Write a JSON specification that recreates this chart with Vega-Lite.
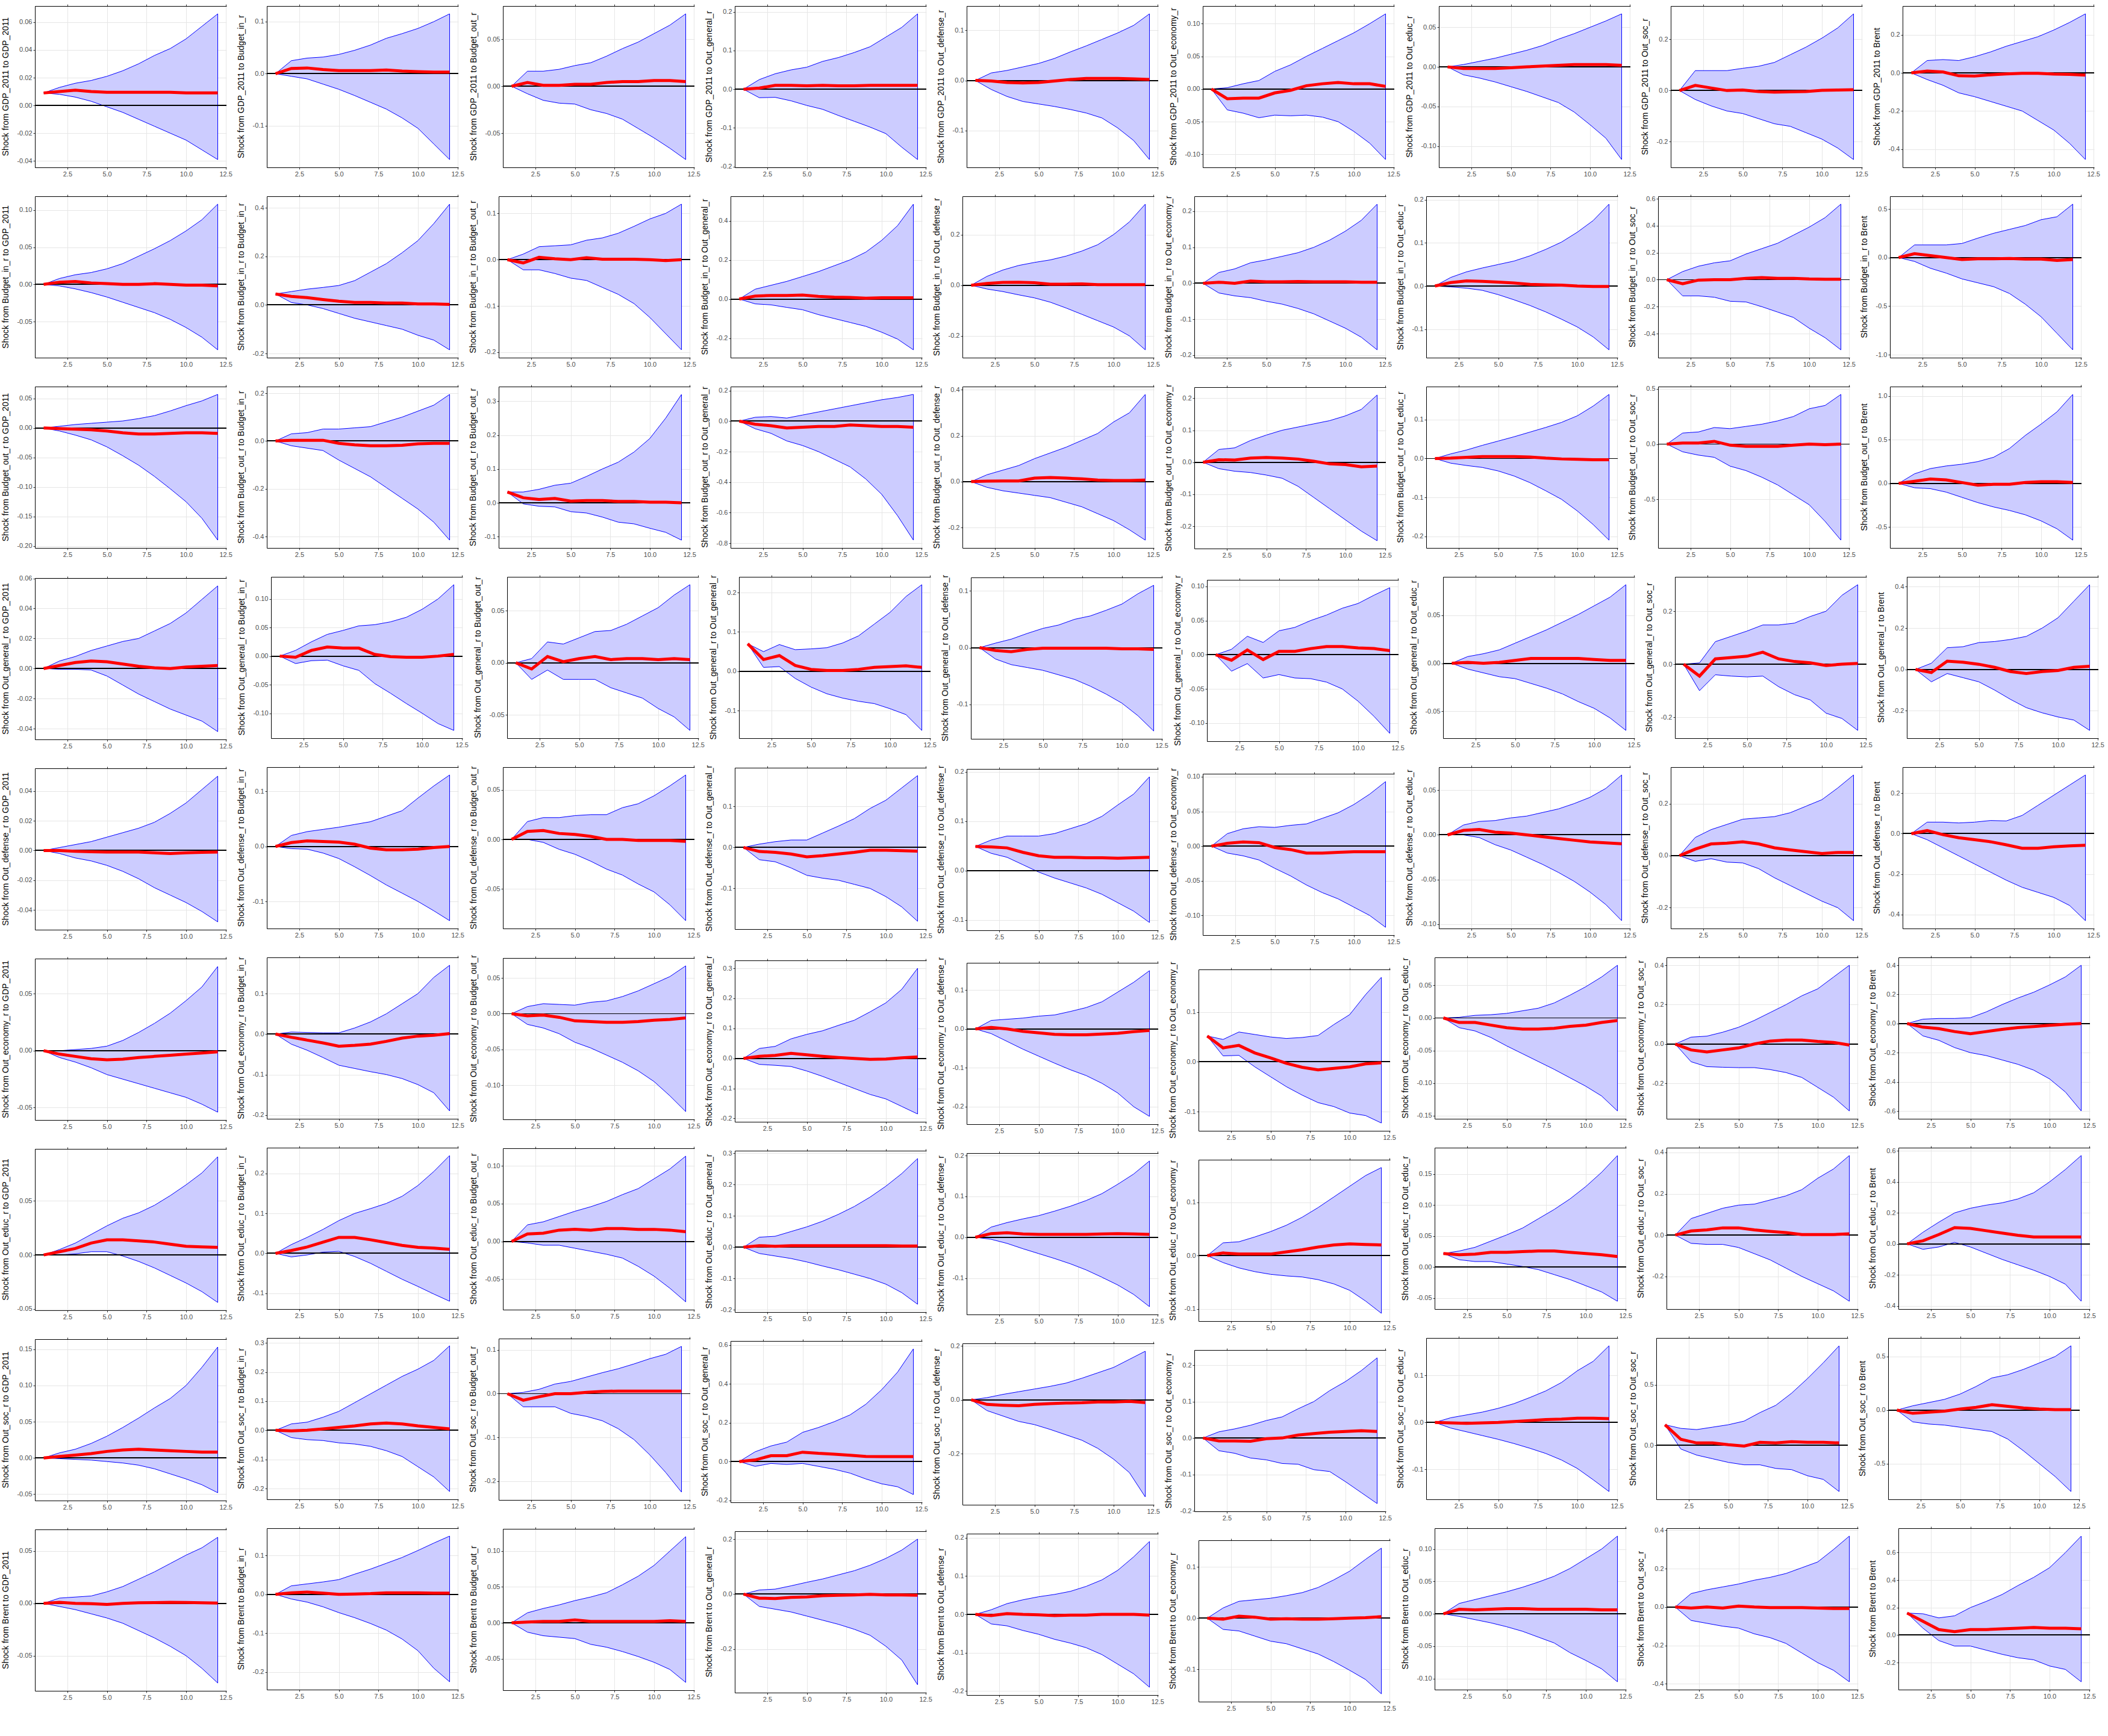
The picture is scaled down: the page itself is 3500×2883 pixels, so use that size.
{
"$schema": "https://vega.github.io/schema/vega-lite/v6.json",
"background": "white",
"padding": {"left": 2, "top": 6, "right": 0, "bottom": 2},
"config": {
  "locale": {"number": {"decimal": ".", "thousands": ",", "grouping": [3], "currency": ["$", ""], "minus": "-"}},
  "view": {"stroke": null},
  "font": "Liberation Sans",
  "axis": {"labelFont": "Liberation Sans", "labelFontSize": 11, "labelColor": "#4d4d4d", "tickColor": "#333333", "tickSize": 3, "labelPadding": 2, "domainColor": "#000000", "domainWidth": 1, "gridColor": "#e6e6e6", "gridWidth": 1, "title": null},
  "header": {"labelFont": "Liberation Sans", "labelFontSize": 14, "labelColor": "#000000"}
},
"data": {"values": [
{"p":1,"x":1,"y":0.009,"l":0.009,"h":0.009},{"p":1,"x":2,"y":0.010,"l":0.008,"h":0.013},{"p":1,"x":3,"y":0.011,"l":0.006,"h":0.016},{"p":1,"x":4,"y":0.010,"l":0.003,"h":0.018},{"p":1,"x":5,"y":0.0095,"l":-0.001,"h":0.021},{"p":1,"x":6,"y":0.0095,"l":-0.005,"h":0.025},{"p":1,"x":7,"y":0.0095,"l":-0.010,"h":0.030},{"p":1,"x":8,"y":0.0095,"l":-0.015,"h":0.036},{"p":1,"x":9,"y":0.0095,"l":-0.020,"h":0.041},{"p":1,"x":10,"y":0.009,"l":-0.025,"h":0.048},{"p":1,"x":11,"y":0.009,"l":-0.032,"h":0.057},{"p":1,"x":12,"y":0.009,"l":-0.039,"h":0.066},
{"p":2,"x":1,"y":0,"l":0,"h":0},{"p":2,"x":2,"y":0.010,"l":-0.005,"h":0.025},{"p":2,"x":3,"y":0.011,"l":-0.010,"h":0.030},{"p":2,"x":4,"y":0.008,"l":-0.020,"h":0.032},{"p":2,"x":5,"y":0.006,"l":-0.030,"h":0.037},{"p":2,"x":6,"y":0.006,"l":-0.042,"h":0.045},{"p":2,"x":7,"y":0.006,"l":-0.055,"h":0.055},{"p":2,"x":8,"y":0.007,"l":-0.068,"h":0.068},{"p":2,"x":9,"y":0.005,"l":-0.085,"h":0.077},{"p":2,"x":10,"y":0.004,"l":-0.105,"h":0.087},{"p":2,"x":11,"y":0.003,"l":-0.135,"h":0.100},{"p":2,"x":12,"y":0.003,"l":-0.165,"h":0.115},
{"p":3,"x":1,"y":0,"l":0,"h":0},{"p":3,"x":2,"y":0.004,"l":-0.008,"h":0.016},{"p":3,"x":3,"y":0.001,"l":-0.015,"h":0.016},{"p":3,"x":4,"y":0.001,"l":-0.018,"h":0.018},{"p":3,"x":5,"y":0.002,"l":-0.019,"h":0.022},{"p":3,"x":6,"y":0.002,"l":-0.025,"h":0.025},{"p":3,"x":7,"y":0.004,"l":-0.029,"h":0.032},{"p":3,"x":8,"y":0.005,"l":-0.035,"h":0.040},{"p":3,"x":9,"y":0.005,"l":-0.045,"h":0.047},{"p":3,"x":10,"y":0.006,"l":-0.055,"h":0.056},{"p":3,"x":11,"y":0.006,"l":-0.066,"h":0.065},{"p":3,"x":12,"y":0.005,"l":-0.078,"h":0.077},
{"p":4,"x":1,"y":0,"l":0,"h":0},{"p":4,"x":2,"y":0.003,"l":-0.022,"h":0.025},{"p":4,"x":3,"y":0.010,"l":-0.021,"h":0.040},{"p":4,"x":4,"y":0.010,"l":-0.030,"h":0.050},{"p":4,"x":5,"y":0.009,"l":-0.042,"h":0.057},{"p":4,"x":6,"y":0.010,"l":-0.052,"h":0.072},{"p":4,"x":7,"y":0.009,"l":-0.068,"h":0.082},{"p":4,"x":8,"y":0.009,"l":-0.083,"h":0.095},{"p":4,"x":9,"y":0.010,"l":-0.098,"h":0.110},{"p":4,"x":10,"y":0.010,"l":-0.115,"h":0.135},{"p":4,"x":11,"y":0.010,"l":-0.150,"h":0.160},{"p":4,"x":12,"y":0.010,"l":-0.182,"h":0.195},
{"p":5,"x":1,"y":0,"l":0,"h":0},{"p":5,"x":2,"y":-0.001,"l":-0.018,"h":0.015},{"p":5,"x":3,"y":-0.004,"l":-0.032,"h":0.020},{"p":5,"x":4,"y":-0.005,"l":-0.042,"h":0.027},{"p":5,"x":5,"y":-0.004,"l":-0.047,"h":0.034},{"p":5,"x":6,"y":-0.001,"l":-0.052,"h":0.044},{"p":5,"x":7,"y":0.002,"l":-0.058,"h":0.057},{"p":5,"x":8,"y":0.004,"l":-0.065,"h":0.069},{"p":5,"x":9,"y":0.004,"l":-0.075,"h":0.082},{"p":5,"x":10,"y":0.004,"l":-0.095,"h":0.095},{"p":5,"x":11,"y":0.003,"l":-0.120,"h":0.110},{"p":5,"x":12,"y":0.002,"l":-0.158,"h":0.133},
{"p":6,"x":1,"y":0,"l":0,"h":0},{"p":6,"x":2,"y":-0.015,"l":-0.032,"h":0.002},{"p":6,"x":3,"y":-0.014,"l":-0.037,"h":0.008},{"p":6,"x":4,"y":-0.014,"l":-0.044,"h":0.013},{"p":6,"x":5,"y":-0.006,"l":-0.040,"h":0.027},{"p":6,"x":6,"y":-0.002,"l":-0.041,"h":0.037},{"p":6,"x":7,"y":0.005,"l":-0.040,"h":0.050},{"p":6,"x":8,"y":0.008,"l":-0.043,"h":0.062},{"p":6,"x":9,"y":0.010,"l":-0.050,"h":0.074},{"p":6,"x":10,"y":0.008,"l":-0.065,"h":0.086},{"p":6,"x":11,"y":0.008,"l":-0.083,"h":0.100},{"p":6,"x":12,"y":0.004,"l":-0.108,"h":0.115},
{"p":7,"x":1,"y":0,"l":0,"h":0},{"p":7,"x":2,"y":-0.002,"l":-0.010,"h":0.003},{"p":7,"x":3,"y":-0.002,"l":-0.014,"h":0.007},{"p":7,"x":4,"y":-0.002,"l":-0.019,"h":0.011},{"p":7,"x":5,"y":-0.001,"l":-0.025,"h":0.016},{"p":7,"x":6,"y":0,"l":-0.031,"h":0.021},{"p":7,"x":7,"y":0.001,"l":-0.038,"h":0.027},{"p":7,"x":8,"y":0.002,"l":-0.045,"h":0.035},{"p":7,"x":9,"y":0.003,"l":-0.057,"h":0.042},{"p":7,"x":10,"y":0.003,"l":-0.073,"h":0.050},{"p":7,"x":11,"y":0.003,"l":-0.090,"h":0.058},{"p":7,"x":12,"y":0.002,"l":-0.117,"h":0.067},
{"p":8,"x":1,"y":0,"l":0,"h":0},{"p":8,"x":2,"y":0.020,"l":-0.035,"h":0.078},{"p":8,"x":3,"y":0.010,"l":-0.060,"h":0.078},{"p":8,"x":4,"y":0,"l":-0.080,"h":0.078},{"p":8,"x":5,"y":0.002,"l":-0.090,"h":0.087},{"p":8,"x":6,"y":-0.004,"l":-0.110,"h":0.095},{"p":8,"x":7,"y":-0.006,"l":-0.130,"h":0.110},{"p":8,"x":8,"y":-0.005,"l":-0.140,"h":0.140},{"p":8,"x":9,"y":-0.004,"l":-0.165,"h":0.170},{"p":8,"x":10,"y":0.001,"l":-0.190,"h":0.205},{"p":8,"x":11,"y":0.002,"l":-0.225,"h":0.245},{"p":8,"x":12,"y":0.003,"l":-0.270,"h":0.300},
{"p":9,"x":1,"y":0,"l":0,"h":0},{"p":9,"x":2,"y":0.010,"l":-0.035,"h":0.065},{"p":9,"x":3,"y":0.005,"l":-0.065,"h":0.070},{"p":9,"x":4,"y":-0.015,"l":-0.105,"h":0.065},{"p":9,"x":5,"y":-0.016,"l":-0.125,"h":0.085},{"p":9,"x":6,"y":-0.010,"l":-0.150,"h":0.110},{"p":9,"x":7,"y":-0.005,"l":-0.175,"h":0.140},{"p":9,"x":8,"y":-0.002,"l":-0.200,"h":0.165},{"p":9,"x":9,"y":-0.002,"l":-0.250,"h":0.190},{"p":9,"x":10,"y":-0.006,"l":-0.300,"h":0.225},{"p":9,"x":11,"y":-0.008,"l":-0.370,"h":0.265},{"p":9,"x":12,"y":-0.012,"l":-0.455,"h":0.310},
{"p":10,"x":1,"y":0,"l":0,"h":0},{"p":10,"x":2,"y":0.003,"l":-0.002,"h":0.008},{"p":10,"x":3,"y":0.004,"l":-0.006,"h":0.013},{"p":10,"x":4,"y":0.002,"l":-0.011,"h":0.016},{"p":10,"x":5,"y":0.001,"l":-0.017,"h":0.021},{"p":10,"x":6,"y":0,"l":-0.024,"h":0.028},{"p":10,"x":7,"y":0,"l":-0.031,"h":0.038},{"p":10,"x":8,"y":0.001,"l":-0.038,"h":0.048},{"p":10,"x":9,"y":0,"l":-0.047,"h":0.059},{"p":10,"x":10,"y":-0.001,"l":-0.058,"h":0.072},{"p":10,"x":11,"y":-0.001,"l":-0.071,"h":0.087},{"p":10,"x":12,"y":-0.002,"l":-0.088,"h":0.108},
{"p":11,"x":1,"y":0.045,"l":0.045,"h":0.045},{"p":11,"x":2,"y":0.035,"l":0.010,"h":0.055},{"p":11,"x":3,"y":0.030,"l":0,"h":0.065},{"p":11,"x":4,"y":0.022,"l":-0.015,"h":0.072},{"p":11,"x":5,"y":0.015,"l":-0.035,"h":0.080},{"p":11,"x":6,"y":0.010,"l":-0.055,"h":0.100},{"p":11,"x":7,"y":0.010,"l":-0.070,"h":0.135},{"p":11,"x":8,"y":0.008,"l":-0.085,"h":0.170},{"p":11,"x":9,"y":0.008,"l":-0.100,"h":0.215},{"p":11,"x":10,"y":0.004,"l":-0.125,"h":0.265},{"p":11,"x":11,"y":0.004,"l":-0.145,"h":0.335},{"p":11,"x":12,"y":0.002,"l":-0.185,"h":0.415},
{"p":12,"x":1,"y":0,"l":0,"h":0},{"p":12,"x":2,"y":-0.007,"l":-0.022,"h":0.012},{"p":12,"x":3,"y":0.005,"l":-0.022,"h":0.028},{"p":12,"x":4,"y":0.002,"l":-0.030,"h":0.030},{"p":12,"x":5,"y":0,"l":-0.040,"h":0.032},{"p":12,"x":6,"y":0.004,"l":-0.045,"h":0.042},{"p":12,"x":7,"y":0.001,"l":-0.060,"h":0.047},{"p":12,"x":8,"y":0.001,"l":-0.075,"h":0.057},{"p":12,"x":9,"y":0.001,"l":-0.095,"h":0.072},{"p":12,"x":10,"y":0,"l":-0.125,"h":0.088},{"p":12,"x":11,"y":-0.002,"l":-0.160,"h":0.100},{"p":12,"x":12,"y":0,"l":-0.195,"h":0.120},
{"p":13,"x":1,"y":0,"l":0,"h":0},{"p":13,"x":2,"y":0.015,"l":-0.025,"h":0.050},{"p":13,"x":3,"y":0.018,"l":-0.030,"h":0.070},{"p":13,"x":4,"y":0.018,"l":-0.043,"h":0.090},{"p":13,"x":5,"y":0.020,"l":-0.055,"h":0.115},{"p":13,"x":6,"y":0.013,"l":-0.080,"h":0.140},{"p":13,"x":7,"y":0.009,"l":-0.100,"h":0.170},{"p":13,"x":8,"y":0.008,"l":-0.120,"h":0.200},{"p":13,"x":9,"y":0.004,"l":-0.140,"h":0.240},{"p":13,"x":10,"y":0.006,"l":-0.170,"h":0.300},{"p":13,"x":11,"y":0.006,"l":-0.205,"h":0.375},{"p":13,"x":12,"y":0.006,"l":-0.260,"h":0.485},
{"p":14,"x":1,"y":0,"l":0,"h":0},{"p":14,"x":2,"y":0.007,"l":-0.015,"h":0.035},{"p":14,"x":3,"y":0.011,"l":-0.025,"h":0.060},{"p":14,"x":4,"y":0.012,"l":-0.038,"h":0.078},{"p":14,"x":5,"y":0.010,"l":-0.050,"h":0.090},{"p":14,"x":6,"y":0.004,"l":-0.067,"h":0.100},{"p":14,"x":7,"y":0.004,"l":-0.090,"h":0.115},{"p":14,"x":8,"y":0.005,"l":-0.115,"h":0.135},{"p":14,"x":9,"y":0.002,"l":-0.140,"h":0.160},{"p":14,"x":10,"y":0.002,"l":-0.165,"h":0.200},{"p":14,"x":11,"y":0.002,"l":-0.200,"h":0.250},{"p":14,"x":12,"y":0.002,"l":-0.255,"h":0.320},
{"p":15,"x":1,"y":0,"l":0,"h":0},{"p":15,"x":2,"y":0.003,"l":-0.027,"h":0.030},{"p":15,"x":3,"y":0,"l":-0.035,"h":0.040},{"p":15,"x":4,"y":0.006,"l":-0.040,"h":0.057},{"p":15,"x":5,"y":0.004,"l":-0.050,"h":0.065},{"p":15,"x":6,"y":0.004,"l":-0.058,"h":0.075},{"p":15,"x":7,"y":0.005,"l":-0.070,"h":0.085},{"p":15,"x":8,"y":0.004,"l":-0.085,"h":0.100},{"p":15,"x":9,"y":0.004,"l":-0.105,"h":0.120},{"p":15,"x":10,"y":0.004,"l":-0.125,"h":0.145},{"p":15,"x":11,"y":0.003,"l":-0.150,"h":0.175},{"p":15,"x":12,"y":0.003,"l":-0.185,"h":0.220},
{"p":16,"x":1,"y":0,"l":0,"h":0},{"p":16,"x":2,"y":0.008,"l":-0.002,"h":0.020},{"p":16,"x":3,"y":0.012,"l":-0.005,"h":0.033},{"p":16,"x":4,"y":0.011,"l":-0.010,"h":0.042},{"p":16,"x":5,"y":0.009,"l":-0.020,"h":0.050},{"p":16,"x":6,"y":0.007,"l":-0.032,"h":0.058},{"p":16,"x":7,"y":0.004,"l":-0.045,"h":0.070},{"p":16,"x":8,"y":0.003,"l":-0.060,"h":0.085},{"p":16,"x":9,"y":0.002,"l":-0.077,"h":0.102},{"p":16,"x":10,"y":0,"l":-0.095,"h":0.125},{"p":16,"x":11,"y":-0.001,"l":-0.118,"h":0.152},{"p":16,"x":12,"y":-0.001,"l":-0.148,"h":0.190},
{"p":17,"x":1,"y":0,"l":0,"h":0},{"p":17,"x":2,"y":-0.030,"l":-0.120,"h":0.060},{"p":17,"x":3,"y":-0.003,"l":-0.120,"h":0.100},{"p":17,"x":4,"y":0,"l":-0.130,"h":0.125},{"p":17,"x":5,"y":0,"l":-0.160,"h":0.140},{"p":17,"x":6,"y":0.010,"l":-0.165,"h":0.190},{"p":17,"x":7,"y":0.015,"l":-0.200,"h":0.230},{"p":17,"x":8,"y":0.010,"l":-0.240,"h":0.270},{"p":17,"x":9,"y":0.010,"l":-0.280,"h":0.330},{"p":17,"x":10,"y":0.005,"l":-0.360,"h":0.390},{"p":17,"x":11,"y":0.003,"l":-0.430,"h":0.460},{"p":17,"x":12,"y":0.003,"l":-0.520,"h":0.560},
{"p":18,"x":1,"y":0,"l":0,"h":0},{"p":18,"x":2,"y":0.040,"l":-0.040,"h":0.130},{"p":18,"x":3,"y":0.020,"l":-0.110,"h":0.130},{"p":18,"x":4,"y":0,"l":-0.160,"h":0.130},{"p":18,"x":5,"y":-0.020,"l":-0.220,"h":0.145},{"p":18,"x":6,"y":-0.012,"l":-0.260,"h":0.200},{"p":18,"x":7,"y":-0.012,"l":-0.300,"h":0.250},{"p":18,"x":8,"y":-0.010,"l":-0.370,"h":0.290},{"p":18,"x":9,"y":-0.015,"l":-0.480,"h":0.330},{"p":18,"x":10,"y":-0.015,"l":-0.610,"h":0.390},{"p":18,"x":11,"y":-0.030,"l":-0.780,"h":0.420},{"p":18,"x":12,"y":-0.020,"l":-0.950,"h":0.550},
{"p":19,"x":1,"y":0,"l":0,"h":0},{"p":19,"x":2,"y":-0.001,"l":-0.005,"h":0.003},{"p":19,"x":3,"y":-0.002,"l":-0.012,"h":0.006},{"p":19,"x":4,"y":-0.003,"l":-0.020,"h":0.008},{"p":19,"x":5,"y":-0.005,"l":-0.032,"h":0.010},{"p":19,"x":6,"y":-0.008,"l":-0.047,"h":0.012},{"p":19,"x":7,"y":-0.010,"l":-0.063,"h":0.016},{"p":19,"x":8,"y":-0.010,"l":-0.082,"h":0.021},{"p":19,"x":9,"y":-0.009,"l":-0.103,"h":0.029},{"p":19,"x":10,"y":-0.008,"l":-0.125,"h":0.038},{"p":19,"x":11,"y":-0.008,"l":-0.153,"h":0.046},{"p":19,"x":12,"y":-0.009,"l":-0.190,"h":0.057},
{"p":20,"x":1,"y":0,"l":0,"h":0},{"p":20,"x":2,"y":0.003,"l":-0.020,"h":0.030},{"p":20,"x":3,"y":0.003,"l":-0.030,"h":0.035},{"p":20,"x":4,"y":0.003,"l":-0.040,"h":0.050},{"p":20,"x":5,"y":-0.010,"l":-0.080,"h":0.050},{"p":20,"x":6,"y":-0.016,"l":-0.115,"h":0.055},{"p":20,"x":7,"y":-0.020,"l":-0.150,"h":0.060},{"p":20,"x":8,"y":-0.020,"l":-0.195,"h":0.080},{"p":20,"x":9,"y":-0.018,"l":-0.240,"h":0.100},{"p":20,"x":10,"y":-0.012,"l":-0.285,"h":0.125},{"p":20,"x":11,"y":-0.010,"l":-0.340,"h":0.150},{"p":20,"x":12,"y":-0.010,"l":-0.415,"h":0.195},
{"p":21,"x":1,"y":0.032,"l":0.032,"h":0.032},{"p":21,"x":2,"y":0.015,"l":-0.003,"h":0.032},{"p":21,"x":3,"y":0.010,"l":-0.010,"h":0.040},{"p":21,"x":4,"y":0.013,"l":-0.012,"h":0.052},{"p":21,"x":5,"y":0.005,"l":-0.026,"h":0.058},{"p":21,"x":6,"y":0.007,"l":-0.030,"h":0.078},{"p":21,"x":7,"y":0.007,"l":-0.042,"h":0.100},{"p":21,"x":8,"y":0.004,"l":-0.057,"h":0.120},{"p":21,"x":9,"y":0.004,"l":-0.062,"h":0.150},{"p":21,"x":10,"y":0.002,"l":-0.075,"h":0.190},{"p":21,"x":11,"y":0.002,"l":-0.087,"h":0.250},{"p":21,"x":12,"y":0,"l":-0.110,"h":0.320},
{"p":22,"x":1,"y":0,"l":0,"h":0},{"p":22,"x":2,"y":-0.020,"l":-0.050,"h":0.025},{"p":22,"x":3,"y":-0.030,"l":-0.080,"h":0.030},{"p":22,"x":4,"y":-0.045,"l":-0.130,"h":0.020},{"p":22,"x":5,"y":-0.040,"l":-0.160,"h":0.040},{"p":22,"x":6,"y":-0.035,"l":-0.200,"h":0.060},{"p":22,"x":7,"y":-0.035,"l":-0.250,"h":0.080},{"p":22,"x":8,"y":-0.025,"l":-0.300,"h":0.100},{"p":22,"x":9,"y":-0.030,"l":-0.380,"h":0.120},{"p":22,"x":10,"y":-0.035,"l":-0.480,"h":0.140},{"p":22,"x":11,"y":-0.035,"l":-0.620,"h":0.155},{"p":22,"x":12,"y":-0.040,"l":-0.780,"h":0.175},
{"p":23,"x":1,"y":0,"l":0,"h":0},{"p":23,"x":2,"y":0.002,"l":-0.025,"h":0.030},{"p":23,"x":3,"y":0.003,"l":-0.040,"h":0.050},{"p":23,"x":4,"y":0.003,"l":-0.050,"h":0.070},{"p":23,"x":5,"y":0.015,"l":-0.060,"h":0.100},{"p":23,"x":6,"y":0.018,"l":-0.070,"h":0.125},{"p":23,"x":7,"y":0.015,"l":-0.090,"h":0.150},{"p":23,"x":8,"y":0.012,"l":-0.110,"h":0.180},{"p":23,"x":9,"y":0.007,"l":-0.140,"h":0.210},{"p":23,"x":10,"y":0.005,"l":-0.170,"h":0.260},{"p":23,"x":11,"y":0.005,"l":-0.210,"h":0.300},{"p":23,"x":12,"y":0.007,"l":-0.255,"h":0.380},
{"p":24,"x":1,"y":0,"l":0,"h":0},{"p":24,"x":2,"y":0.008,"l":-0.020,"h":0.040},{"p":24,"x":3,"y":0.007,"l":-0.028,"h":0.045},{"p":24,"x":4,"y":0.013,"l":-0.032,"h":0.068},{"p":24,"x":5,"y":0.015,"l":-0.040,"h":0.085},{"p":24,"x":6,"y":0.013,"l":-0.050,"h":0.100},{"p":24,"x":7,"y":0.010,"l":-0.075,"h":0.110},{"p":24,"x":8,"y":0.003,"l":-0.110,"h":0.120},{"p":24,"x":9,"y":-0.005,"l":-0.145,"h":0.130},{"p":24,"x":10,"y":-0.007,"l":-0.180,"h":0.145},{"p":24,"x":11,"y":-0.014,"l":-0.215,"h":0.165},{"p":24,"x":12,"y":-0.012,"l":-0.245,"h":0.210},
{"p":25,"x":1,"y":0,"l":0,"h":0},{"p":25,"x":2,"y":0.001,"l":-0.012,"h":0.012},{"p":25,"x":3,"y":0.003,"l":-0.018,"h":0.022},{"p":25,"x":4,"y":0.005,"l":-0.023,"h":0.034},{"p":25,"x":5,"y":0.005,"l":-0.032,"h":0.045},{"p":25,"x":6,"y":0.005,"l":-0.045,"h":0.056},{"p":25,"x":7,"y":0.004,"l":-0.062,"h":0.068},{"p":25,"x":8,"y":0.001,"l":-0.083,"h":0.080},{"p":25,"x":9,"y":-0.001,"l":-0.105,"h":0.093},{"p":25,"x":10,"y":-0.002,"l":-0.135,"h":0.110},{"p":25,"x":11,"y":-0.003,"l":-0.170,"h":0.135},{"p":25,"x":12,"y":-0.003,"l":-0.210,"h":0.165},
{"p":26,"x":1,"y":0,"l":0,"h":0},{"p":26,"x":2,"y":0.010,"l":-0.070,"h":0.100},{"p":26,"x":3,"y":0.010,"l":-0.100,"h":0.110},{"p":26,"x":4,"y":0.025,"l":-0.120,"h":0.150},{"p":26,"x":5,"y":-0.010,"l":-0.200,"h":0.140},{"p":26,"x":6,"y":-0.020,"l":-0.240,"h":0.160},{"p":26,"x":7,"y":-0.020,"l":-0.300,"h":0.180},{"p":26,"x":8,"y":-0.020,"l":-0.370,"h":0.210},{"p":26,"x":9,"y":-0.010,"l":-0.460,"h":0.250},{"p":26,"x":10,"y":0,"l":-0.550,"h":0.320},{"p":26,"x":11,"y":-0.005,"l":-0.700,"h":0.350},{"p":26,"x":12,"y":0,"l":-0.870,"h":0.450},
{"p":27,"x":1,"y":0,"l":0,"h":0},{"p":27,"x":2,"y":0.025,"l":-0.050,"h":0.110},{"p":27,"x":3,"y":0.050,"l":-0.060,"h":0.170},{"p":27,"x":4,"y":0.040,"l":-0.100,"h":0.200},{"p":27,"x":5,"y":0.010,"l":-0.160,"h":0.220},{"p":27,"x":6,"y":-0.020,"l":-0.220,"h":0.250},{"p":27,"x":7,"y":-0.010,"l":-0.270,"h":0.300},{"p":27,"x":8,"y":-0.010,"l":-0.310,"h":0.400},{"p":27,"x":9,"y":0.010,"l":-0.360,"h":0.550},{"p":27,"x":10,"y":0.020,"l":-0.430,"h":0.680},{"p":27,"x":11,"y":0.020,"l":-0.520,"h":0.820},{"p":27,"x":12,"y":0.010,"l":-0.650,"h":1.020},
{"p":28,"x":1,"y":0,"l":0,"h":0},{"p":28,"x":2,"y":0.002,"l":-0.0005,"h":0.005},{"p":28,"x":3,"y":0.004,"l":-0.0005,"h":0.008},{"p":28,"x":4,"y":0.005,"l":-0.001,"h":0.012},{"p":28,"x":5,"y":0.0045,"l":-0.005,"h":0.015},{"p":28,"x":6,"y":0.003,"l":-0.011,"h":0.018},{"p":28,"x":7,"y":0.0015,"l":-0.017,"h":0.020},{"p":28,"x":8,"y":0.0005,"l":-0.022,"h":0.025},{"p":28,"x":9,"y":0,"l":-0.027,"h":0.030},{"p":28,"x":10,"y":0.001,"l":-0.031,"h":0.037},{"p":28,"x":11,"y":0.0015,"l":-0.035,"h":0.046},{"p":28,"x":12,"y":0.002,"l":-0.042,"h":0.055},
{"p":29,"x":1,"y":0,"l":0,"h":0},{"p":29,"x":2,"y":-0.002,"l":-0.013,"h":0.010},{"p":29,"x":3,"y":0.010,"l":-0.008,"h":0.025},{"p":29,"x":4,"y":0.016,"l":-0.007,"h":0.038},{"p":29,"x":5,"y":0.014,"l":-0.017,"h":0.045},{"p":29,"x":6,"y":0.014,"l":-0.025,"h":0.053},{"p":29,"x":7,"y":0.003,"l":-0.048,"h":0.055},{"p":29,"x":8,"y":-0.001,"l":-0.065,"h":0.060},{"p":29,"x":9,"y":-0.002,"l":-0.083,"h":0.068},{"p":29,"x":10,"y":-0.002,"l":-0.100,"h":0.082},{"p":29,"x":11,"y":0,"l":-0.118,"h":0.100},{"p":29,"x":12,"y":0.003,"l":-0.130,"h":0.125},
{"p":30,"x":1,"y":0,"l":0,"h":0},{"p":30,"x":2,"y":-0.006,"l":-0.016,"h":0.004},{"p":30,"x":3,"y":0.006,"l":-0.007,"h":0.020},{"p":30,"x":4,"y":0.001,"l":-0.016,"h":0.018},{"p":30,"x":5,"y":0.004,"l":-0.016,"h":0.024},{"p":30,"x":6,"y":0.006,"l":-0.016,"h":0.030},{"p":30,"x":7,"y":0.003,"l":-0.024,"h":0.031},{"p":30,"x":8,"y":0.004,"l":-0.029,"h":0.037},{"p":30,"x":9,"y":0.004,"l":-0.034,"h":0.045},{"p":30,"x":10,"y":0.003,"l":-0.044,"h":0.053},{"p":30,"x":11,"y":0.004,"l":-0.052,"h":0.065},{"p":30,"x":12,"y":0.003,"l":-0.065,"h":0.075},
{"p":31,"x":1,"y":0.070,"l":0.070,"h":0.070},{"p":31,"x":2,"y":0.030,"l":0.010,"h":0.050},{"p":31,"x":3,"y":0.040,"l":0.012,"h":0.068},{"p":31,"x":4,"y":0.015,"l":-0.018,"h":0.055},{"p":31,"x":5,"y":0.005,"l":-0.040,"h":0.057},{"p":31,"x":6,"y":0.002,"l":-0.057,"h":0.060},{"p":31,"x":7,"y":0.002,"l":-0.068,"h":0.072},{"p":31,"x":8,"y":0.005,"l":-0.076,"h":0.090},{"p":31,"x":9,"y":0.010,"l":-0.082,"h":0.120},{"p":31,"x":10,"y":0.012,"l":-0.095,"h":0.150},{"p":31,"x":11,"y":0.014,"l":-0.110,"h":0.190},{"p":31,"x":12,"y":0.010,"l":-0.150,"h":0.220},
{"p":32,"x":1,"y":0,"l":0,"h":0},{"p":32,"x":2,"y":-0.005,"l":-0.020,"h":0.008},{"p":32,"x":3,"y":-0.007,"l":-0.030,"h":0.015},{"p":32,"x":4,"y":-0.003,"l":-0.035,"h":0.025},{"p":32,"x":5,"y":-0.001,"l":-0.040,"h":0.034},{"p":32,"x":6,"y":-0.001,"l":-0.048,"h":0.040},{"p":32,"x":7,"y":-0.001,"l":-0.056,"h":0.050},{"p":32,"x":8,"y":-0.001,"l":-0.068,"h":0.056},{"p":32,"x":9,"y":-0.001,"l":-0.082,"h":0.066},{"p":32,"x":10,"y":-0.002,"l":-0.098,"h":0.077},{"p":32,"x":11,"y":-0.002,"l":-0.120,"h":0.095},{"p":32,"x":12,"y":-0.003,"l":-0.147,"h":0.110},
{"p":33,"x":1,"y":0,"l":0,"h":0},{"p":33,"x":2,"y":-0.008,"l":-0.024,"h":0.008},{"p":33,"x":3,"y":0.007,"l":-0.013,"h":0.027},{"p":33,"x":4,"y":-0.007,"l":-0.034,"h":0.018},{"p":33,"x":5,"y":0.005,"l":-0.029,"h":0.035},{"p":33,"x":6,"y":0.005,"l":-0.034,"h":0.040},{"p":33,"x":7,"y":0.009,"l":-0.035,"h":0.050},{"p":33,"x":8,"y":0.012,"l":-0.040,"h":0.058},{"p":33,"x":9,"y":0.012,"l":-0.050,"h":0.068},{"p":33,"x":10,"y":0.010,"l":-0.068,"h":0.075},{"p":33,"x":11,"y":0.009,"l":-0.090,"h":0.087},{"p":33,"x":12,"y":0.006,"l":-0.115,"h":0.098},
{"p":34,"x":1,"y":0,"l":0,"h":0},{"p":34,"x":2,"y":0.001,"l":-0.006,"h":0.007},{"p":34,"x":3,"y":0,"l":-0.010,"h":0.010},{"p":34,"x":4,"y":0.001,"l":-0.014,"h":0.014},{"p":34,"x":5,"y":0.003,"l":-0.016,"h":0.021},{"p":34,"x":6,"y":0.005,"l":-0.021,"h":0.028},{"p":34,"x":7,"y":0.005,"l":-0.026,"h":0.035},{"p":34,"x":8,"y":0.005,"l":-0.032,"h":0.043},{"p":34,"x":9,"y":0.005,"l":-0.040,"h":0.051},{"p":34,"x":10,"y":0.004,"l":-0.047,"h":0.060},{"p":34,"x":11,"y":0.003,"l":-0.057,"h":0.069},{"p":34,"x":12,"y":0.003,"l":-0.070,"h":0.082},
{"p":35,"x":1,"y":0,"l":0,"h":0},{"p":35,"x":2,"y":-0.045,"l":-0.100,"h":0.005},{"p":35,"x":3,"y":0.020,"l":-0.040,"h":0.085},{"p":35,"x":4,"y":0.025,"l":-0.045,"h":0.105},{"p":35,"x":5,"y":0.030,"l":-0.048,"h":0.125},{"p":35,"x":6,"y":0.045,"l":-0.045,"h":0.148},{"p":35,"x":7,"y":0.020,"l":-0.085,"h":0.148},{"p":35,"x":8,"y":0.010,"l":-0.115,"h":0.155},{"p":35,"x":9,"y":0.005,"l":-0.135,"h":0.180},{"p":35,"x":10,"y":-0.005,"l":-0.185,"h":0.200},{"p":35,"x":11,"y":0,"l":-0.205,"h":0.260},{"p":35,"x":12,"y":0.003,"l":-0.250,"h":0.300},
{"p":36,"x":1,"y":0,"l":0,"h":0},{"p":36,"x":2,"y":-0.015,"l":-0.060,"h":0.030},{"p":36,"x":3,"y":0.040,"l":-0.020,"h":0.105},{"p":36,"x":4,"y":0.035,"l":-0.040,"h":0.110},{"p":36,"x":5,"y":0.025,"l":-0.060,"h":0.130},{"p":36,"x":6,"y":0.010,"l":-0.100,"h":0.135},{"p":36,"x":7,"y":-0.010,"l":-0.145,"h":0.145},{"p":36,"x":8,"y":-0.020,"l":-0.185,"h":0.160},{"p":36,"x":9,"y":-0.010,"l":-0.210,"h":0.200},{"p":36,"x":10,"y":-0.005,"l":-0.230,"h":0.250},{"p":36,"x":11,"y":0.010,"l":-0.245,"h":0.330},{"p":36,"x":12,"y":0.015,"l":-0.295,"h":0.410},
{"p":37,"x":1,"y":0,"l":0,"h":0},{"p":37,"x":2,"y":0,"l":-0.002,"h":0.002},{"p":37,"x":3,"y":-0.0005,"l":-0.005,"h":0.004},{"p":37,"x":4,"y":-0.0008,"l":-0.007,"h":0.006},{"p":37,"x":5,"y":-0.001,"l":-0.010,"h":0.009},{"p":37,"x":6,"y":-0.001,"l":-0.014,"h":0.012},{"p":37,"x":7,"y":-0.001,"l":-0.019,"h":0.015},{"p":37,"x":8,"y":-0.0015,"l":-0.025,"h":0.019},{"p":37,"x":9,"y":-0.002,"l":-0.030,"h":0.025},{"p":37,"x":10,"y":-0.0015,"l":-0.035,"h":0.032},{"p":37,"x":11,"y":-0.0012,"l":-0.041,"h":0.041},{"p":37,"x":12,"y":-0.001,"l":-0.048,"h":0.050},
{"p":38,"x":1,"y":0,"l":0,"h":0},{"p":38,"x":2,"y":0.007,"l":-0.004,"h":0.020},{"p":38,"x":3,"y":0.010,"l":-0.005,"h":0.027},{"p":38,"x":4,"y":0.009,"l":-0.012,"h":0.031},{"p":38,"x":5,"y":0.008,"l":-0.022,"h":0.035},{"p":38,"x":6,"y":0.004,"l":-0.037,"h":0.040},{"p":38,"x":7,"y":-0.003,"l":-0.053,"h":0.045},{"p":38,"x":8,"y":-0.006,"l":-0.070,"h":0.055},{"p":38,"x":9,"y":-0.006,"l":-0.085,"h":0.065},{"p":38,"x":10,"y":-0.005,"l":-0.100,"h":0.088},{"p":38,"x":11,"y":-0.002,"l":-0.117,"h":0.110},{"p":38,"x":12,"y":0,"l":-0.135,"h":0.130},
{"p":39,"x":1,"y":0,"l":0,"h":0},{"p":39,"x":2,"y":0.008,"l":0,"h":0.018},{"p":39,"x":3,"y":0.009,"l":-0.003,"h":0.022},{"p":39,"x":4,"y":0.006,"l":-0.010,"h":0.022},{"p":39,"x":5,"y":0.005,"l":-0.015,"h":0.024},{"p":39,"x":6,"y":0.003,"l":-0.022,"h":0.025},{"p":39,"x":7,"y":0,"l":-0.030,"h":0.025},{"p":39,"x":8,"y":0,"l":-0.036,"h":0.032},{"p":39,"x":9,"y":-0.001,"l":-0.045,"h":0.036},{"p":39,"x":10,"y":-0.001,"l":-0.053,"h":0.044},{"p":39,"x":11,"y":-0.001,"l":-0.066,"h":0.054},{"p":39,"x":12,"y":-0.002,"l":-0.082,"h":0.065},
{"p":40,"x":1,"y":0,"l":0,"h":0},{"p":40,"x":2,"y":-0.010,"l":-0.030,"h":0.008},{"p":40,"x":3,"y":-0.012,"l":-0.035,"h":0.014},{"p":40,"x":4,"y":-0.016,"l":-0.050,"h":0.018},{"p":40,"x":5,"y":-0.023,"l":-0.068,"h":0.018},{"p":40,"x":6,"y":-0.020,"l":-0.075,"h":0.035},{"p":40,"x":7,"y":-0.016,"l":-0.080,"h":0.052},{"p":40,"x":8,"y":-0.012,"l":-0.090,"h":0.070},{"p":40,"x":9,"y":-0.007,"l":-0.100,"h":0.095},{"p":40,"x":10,"y":-0.007,"l":-0.120,"h":0.115},{"p":40,"x":11,"y":-0.008,"l":-0.145,"h":0.145},{"p":40,"x":12,"y":-0.009,"l":-0.180,"h":0.175},
{"p":41,"x":1,"y":0.049,"l":0.049,"h":0.049},{"p":41,"x":2,"y":0.048,"l":0.035,"h":0.062},{"p":41,"x":3,"y":0.046,"l":0.027,"h":0.070},{"p":41,"x":4,"y":0.037,"l":0.012,"h":0.070},{"p":41,"x":5,"y":0.030,"l":-0.003,"h":0.070},{"p":41,"x":6,"y":0.027,"l":-0.015,"h":0.075},{"p":41,"x":7,"y":0.027,"l":-0.025,"h":0.085},{"p":41,"x":8,"y":0.026,"l":-0.035,"h":0.095},{"p":41,"x":9,"y":0.026,"l":-0.048,"h":0.110},{"p":41,"x":10,"y":0.025,"l":-0.065,"h":0.133},{"p":41,"x":11,"y":0.026,"l":-0.082,"h":0.155},{"p":41,"x":12,"y":0.027,"l":-0.105,"h":0.190},
{"p":42,"x":1,"y":0,"l":0,"h":0},{"p":42,"x":2,"y":0.004,"l":-0.010,"h":0.018},{"p":42,"x":3,"y":0.006,"l":-0.014,"h":0.025},{"p":42,"x":4,"y":0.005,"l":-0.020,"h":0.028},{"p":42,"x":5,"y":-0.002,"l":-0.032,"h":0.027},{"p":42,"x":6,"y":-0.005,"l":-0.043,"h":0.030},{"p":42,"x":7,"y":-0.010,"l":-0.056,"h":0.032},{"p":42,"x":8,"y":-0.010,"l":-0.067,"h":0.040},{"p":42,"x":9,"y":-0.009,"l":-0.076,"h":0.048},{"p":42,"x":10,"y":-0.008,"l":-0.088,"h":0.060},{"p":42,"x":11,"y":-0.008,"l":-0.100,"h":0.075},{"p":42,"x":12,"y":-0.008,"l":-0.117,"h":0.093},
{"p":43,"x":1,"y":0,"l":0,"h":0},{"p":43,"x":2,"y":0.005,"l":0,"h":0.011},{"p":43,"x":3,"y":0.006,"l":-0.003,"h":0.015},{"p":43,"x":4,"y":0.003,"l":-0.011,"h":0.016},{"p":43,"x":5,"y":0.002,"l":-0.017,"h":0.019},{"p":43,"x":6,"y":0,"l":-0.025,"h":0.021},{"p":43,"x":7,"y":-0.002,"l":-0.033,"h":0.025},{"p":43,"x":8,"y":-0.004,"l":-0.042,"h":0.029},{"p":43,"x":9,"y":-0.006,"l":-0.052,"h":0.035},{"p":43,"x":10,"y":-0.008,"l":-0.064,"h":0.042},{"p":43,"x":11,"y":-0.009,"l":-0.078,"h":0.052},{"p":43,"x":12,"y":-0.010,"l":-0.096,"h":0.067},
{"p":44,"x":1,"y":0,"l":0,"h":0},{"p":44,"x":2,"y":0.025,"l":-0.022,"h":0.070},{"p":44,"x":3,"y":0.045,"l":-0.012,"h":0.100},{"p":44,"x":4,"y":0.048,"l":-0.025,"h":0.120},{"p":44,"x":5,"y":0.053,"l":-0.028,"h":0.140},{"p":44,"x":6,"y":0.045,"l":-0.050,"h":0.145},{"p":44,"x":7,"y":0.030,"l":-0.085,"h":0.150},{"p":44,"x":8,"y":0.022,"l":-0.115,"h":0.165},{"p":44,"x":9,"y":0.015,"l":-0.145,"h":0.190},{"p":44,"x":10,"y":0.008,"l":-0.175,"h":0.215},{"p":44,"x":11,"y":0.012,"l":-0.200,"h":0.260},{"p":44,"x":12,"y":0.012,"l":-0.250,"h":0.310},
{"p":45,"x":1,"y":0,"l":0,"h":0},{"p":45,"x":2,"y":0.015,"l":-0.030,"h":0.057},{"p":45,"x":3,"y":-0.005,"l":-0.070,"h":0.057},{"p":45,"x":4,"y":-0.020,"l":-0.110,"h":0.053},{"p":45,"x":5,"y":-0.030,"l":-0.150,"h":0.057},{"p":45,"x":6,"y":-0.040,"l":-0.190,"h":0.065},{"p":45,"x":7,"y":-0.055,"l":-0.230,"h":0.063},{"p":45,"x":8,"y":-0.072,"l":-0.265,"h":0.090},{"p":45,"x":9,"y":-0.072,"l":-0.290,"h":0.140},{"p":45,"x":10,"y":-0.065,"l":-0.315,"h":0.190},{"p":45,"x":11,"y":-0.060,"l":-0.355,"h":0.240},{"p":45,"x":12,"y":-0.057,"l":-0.430,"h":0.290},
{"p":46,"x":1,"y":0,"l":0,"h":0},{"p":46,"x":2,"y":-0.003,"l":-0.006,"h":0},{"p":46,"x":3,"y":-0.005,"l":-0.010,"h":0.001},{"p":46,"x":4,"y":-0.007,"l":-0.015,"h":0.002},{"p":46,"x":5,"y":-0.008,"l":-0.021,"h":0.004},{"p":46,"x":6,"y":-0.0075,"l":-0.025,"h":0.009},{"p":46,"x":7,"y":-0.006,"l":-0.029,"h":0.016},{"p":46,"x":8,"y":-0.005,"l":-0.033,"h":0.024},{"p":46,"x":9,"y":-0.004,"l":-0.037,"h":0.033},{"p":46,"x":10,"y":-0.003,"l":-0.041,"h":0.044},{"p":46,"x":11,"y":-0.002,"l":-0.047,"h":0.056},{"p":46,"x":12,"y":-0.001,"l":-0.054,"h":0.074},
{"p":47,"x":1,"y":0,"l":0,"h":0},{"p":47,"x":2,"y":-0.008,"l":-0.025,"h":0.005},{"p":47,"x":3,"y":-0.015,"l":-0.040,"h":0.004},{"p":47,"x":4,"y":-0.022,"l":-0.058,"h":0.003},{"p":47,"x":5,"y":-0.030,"l":-0.077,"h":0.003},{"p":47,"x":6,"y":-0.028,"l":-0.085,"h":0.015},{"p":47,"x":7,"y":-0.025,"l":-0.093,"h":0.030},{"p":47,"x":8,"y":-0.018,"l":-0.100,"h":0.050},{"p":47,"x":9,"y":-0.010,"l":-0.110,"h":0.075},{"p":47,"x":10,"y":-0.005,"l":-0.125,"h":0.100},{"p":47,"x":11,"y":-0.003,"l":-0.145,"h":0.140},{"p":47,"x":12,"y":0.001,"l":-0.190,"h":0.170},
{"p":48,"x":1,"y":0,"l":0,"h":0},{"p":48,"x":2,"y":-0.003,"l":-0.015,"h":0.010},{"p":48,"x":3,"y":-0.002,"l":-0.020,"h":0.014},{"p":48,"x":4,"y":-0.005,"l":-0.028,"h":0.013},{"p":48,"x":5,"y":-0.010,"l":-0.040,"h":0.012},{"p":48,"x":6,"y":-0.011,"l":-0.048,"h":0.016},{"p":48,"x":7,"y":-0.012,"l":-0.058,"h":0.018},{"p":48,"x":8,"y":-0.012,"l":-0.068,"h":0.024},{"p":48,"x":9,"y":-0.011,"l":-0.080,"h":0.032},{"p":48,"x":10,"y":-0.009,"l":-0.095,"h":0.042},{"p":48,"x":11,"y":-0.008,"l":-0.115,"h":0.052},{"p":48,"x":12,"y":-0.006,"l":-0.137,"h":0.067},
{"p":49,"x":1,"y":0,"l":0,"h":0},{"p":49,"x":2,"y":0.007,"l":-0.020,"h":0.033},{"p":49,"x":3,"y":0.010,"l":-0.023,"h":0.040},{"p":49,"x":4,"y":0.017,"l":-0.027,"h":0.065},{"p":49,"x":5,"y":0.012,"l":-0.042,"h":0.080},{"p":49,"x":6,"y":0.007,"l":-0.060,"h":0.092},{"p":49,"x":7,"y":0.003,"l":-0.080,"h":0.110},{"p":49,"x":8,"y":0,"l":-0.100,"h":0.127},{"p":49,"x":9,"y":-0.003,"l":-0.120,"h":0.155},{"p":49,"x":10,"y":-0.002,"l":-0.135,"h":0.185},{"p":49,"x":11,"y":0.002,"l":-0.160,"h":0.230},{"p":49,"x":12,"y":0.005,"l":-0.185,"h":0.300},
{"p":50,"x":1,"y":0,"l":0,"h":0},{"p":50,"x":2,"y":0.004,"l":-0.012,"h":0.022},{"p":50,"x":3,"y":0,"l":-0.032,"h":0.025},{"p":50,"x":4,"y":-0.006,"l":-0.052,"h":0.028},{"p":50,"x":5,"y":-0.010,"l":-0.070,"h":0.033},{"p":50,"x":6,"y":-0.014,"l":-0.088,"h":0.036},{"p":50,"x":7,"y":-0.015,"l":-0.105,"h":0.045},{"p":50,"x":8,"y":-0.015,"l":-0.120,"h":0.055},{"p":50,"x":9,"y":-0.013,"l":-0.140,"h":0.070},{"p":50,"x":10,"y":-0.011,"l":-0.165,"h":0.095},{"p":50,"x":11,"y":-0.007,"l":-0.200,"h":0.120},{"p":50,"x":12,"y":-0.004,"l":-0.225,"h":0.150},
{"p":51,"x":1,"y":0.052,"l":0.052,"h":0.052},{"p":51,"x":2,"y":0.028,"l":0.012,"h":0.045},{"p":51,"x":3,"y":0.033,"l":0.013,"h":0.060},{"p":51,"x":4,"y":0.018,"l":-0.010,"h":0.055},{"p":51,"x":5,"y":0.008,"l":-0.030,"h":0.050},{"p":51,"x":6,"y":-0.003,"l":-0.050,"h":0.047},{"p":51,"x":7,"y":-0.011,"l":-0.067,"h":0.049},{"p":51,"x":8,"y":-0.016,"l":-0.082,"h":0.053},{"p":51,"x":9,"y":-0.013,"l":-0.090,"h":0.075},{"p":51,"x":10,"y":-0.010,"l":-0.103,"h":0.095},{"p":51,"x":11,"y":-0.004,"l":-0.108,"h":0.135},{"p":51,"x":12,"y":-0.002,"l":-0.123,"h":0.170},
{"p":52,"x":1,"y":0,"l":0,"h":0},{"p":52,"x":2,"y":-0.007,"l":-0.015,"h":0.001},{"p":52,"x":3,"y":-0.007,"l":-0.020,"h":0.004},{"p":52,"x":4,"y":-0.011,"l":-0.030,"h":0.005},{"p":52,"x":5,"y":-0.015,"l":-0.043,"h":0.007},{"p":52,"x":6,"y":-0.017,"l":-0.055,"h":0.011},{"p":52,"x":7,"y":-0.017,"l":-0.067,"h":0.015},{"p":52,"x":8,"y":-0.016,"l":-0.079,"h":0.023},{"p":52,"x":9,"y":-0.013,"l":-0.092,"h":0.035},{"p":52,"x":10,"y":-0.011,"l":-0.105,"h":0.048},{"p":52,"x":11,"y":-0.007,"l":-0.120,"h":0.063},{"p":52,"x":12,"y":-0.004,"l":-0.143,"h":0.081},
{"p":53,"x":1,"y":0,"l":0,"h":0},{"p":53,"x":2,"y":-0.030,"l":-0.090,"h":0.035},{"p":53,"x":3,"y":-0.040,"l":-0.115,"h":0.040},{"p":53,"x":4,"y":-0.030,"l":-0.118,"h":0.060},{"p":53,"x":5,"y":-0.020,"l":-0.120,"h":0.085},{"p":53,"x":6,"y":0,"l":-0.120,"h":0.120},{"p":53,"x":7,"y":0.015,"l":-0.130,"h":0.160},{"p":53,"x":8,"y":0.020,"l":-0.145,"h":0.200},{"p":53,"x":9,"y":0.020,"l":-0.170,"h":0.245},{"p":53,"x":10,"y":0.013,"l":-0.220,"h":0.280},{"p":53,"x":11,"y":0.008,"l":-0.270,"h":0.340},{"p":53,"x":12,"y":-0.005,"l":-0.340,"h":0.400},
{"p":54,"x":1,"y":0,"l":0,"h":0},{"p":54,"x":2,"y":-0.025,"l":-0.085,"h":0.030},{"p":54,"x":3,"y":-0.035,"l":-0.115,"h":0.035},{"p":54,"x":4,"y":-0.055,"l":-0.165,"h":0.035},{"p":54,"x":5,"y":-0.070,"l":-0.200,"h":0.040},{"p":54,"x":6,"y":-0.055,"l":-0.220,"h":0.080},{"p":54,"x":7,"y":-0.040,"l":-0.250,"h":0.130},{"p":54,"x":8,"y":-0.028,"l":-0.280,"h":0.175},{"p":54,"x":9,"y":-0.020,"l":-0.320,"h":0.215},{"p":54,"x":10,"y":-0.012,"l":-0.380,"h":0.265},{"p":54,"x":11,"y":-0.005,"l":-0.470,"h":0.320},{"p":54,"x":12,"y":0,"l":-0.600,"h":0.400},
{"p":55,"x":1,"y":0,"l":0,"h":0},{"p":55,"x":2,"y":0.003,"l":0,"h":0.005},{"p":55,"x":3,"y":0.006,"l":0.001,"h":0.011},{"p":55,"x":4,"y":0.011,"l":0.003,"h":0.019},{"p":55,"x":5,"y":0.014,"l":0.003,"h":0.027},{"p":55,"x":6,"y":0.014,"l":-0.001,"h":0.034},{"p":55,"x":7,"y":0.013,"l":-0.006,"h":0.039},{"p":55,"x":8,"y":0.012,"l":-0.012,"h":0.046},{"p":55,"x":9,"y":0.010,"l":-0.019,"h":0.055},{"p":55,"x":10,"y":0.008,"l":-0.026,"h":0.065},{"p":55,"x":11,"y":0.0075,"l":-0.034,"h":0.076},{"p":55,"x":12,"y":0.007,"l":-0.044,"h":0.091},
{"p":56,"x":1,"y":0,"l":0,"h":0},{"p":56,"x":2,"y":0.007,"l":-0.009,"h":0.022},{"p":56,"x":3,"y":0.016,"l":-0.004,"h":0.040},{"p":56,"x":4,"y":0.028,"l":0.003,"h":0.060},{"p":56,"x":5,"y":0.040,"l":0.005,"h":0.082},{"p":56,"x":6,"y":0.040,"l":-0.008,"h":0.100},{"p":56,"x":7,"y":0.034,"l":-0.025,"h":0.112},{"p":56,"x":8,"y":0.027,"l":-0.045,"h":0.125},{"p":56,"x":9,"y":0.020,"l":-0.065,"h":0.143},{"p":56,"x":10,"y":0.015,"l":-0.083,"h":0.170},{"p":56,"x":11,"y":0.013,"l":-0.102,"h":0.205},{"p":56,"x":12,"y":0.010,"l":-0.120,"h":0.245},
{"p":57,"x":1,"y":0,"l":0,"h":0},{"p":57,"x":2,"y":0.010,"l":-0.002,"h":0.022},{"p":57,"x":3,"y":0.011,"l":-0.005,"h":0.026},{"p":57,"x":4,"y":0.015,"l":-0.005,"h":0.033},{"p":57,"x":5,"y":0.016,"l":-0.009,"h":0.040},{"p":57,"x":6,"y":0.015,"l":-0.013,"h":0.046},{"p":57,"x":7,"y":0.017,"l":-0.017,"h":0.053},{"p":57,"x":8,"y":0.017,"l":-0.022,"h":0.062},{"p":57,"x":9,"y":0.016,"l":-0.033,"h":0.070},{"p":57,"x":10,"y":0.016,"l":-0.046,"h":0.083},{"p":57,"x":11,"y":0.015,"l":-0.062,"h":0.096},{"p":57,"x":12,"y":0.013,"l":-0.080,"h":0.113},
{"p":58,"x":1,"y":0,"l":0,"h":0},{"p":58,"x":2,"y":0.005,"l":-0.020,"h":0.032},{"p":58,"x":3,"y":0.003,"l":-0.028,"h":0.035},{"p":58,"x":4,"y":0.005,"l":-0.036,"h":0.050},{"p":58,"x":5,"y":0.005,"l":-0.047,"h":0.065},{"p":58,"x":6,"y":0.005,"l":-0.060,"h":0.083},{"p":58,"x":7,"y":0.005,"l":-0.072,"h":0.105},{"p":58,"x":8,"y":0.005,"l":-0.086,"h":0.130},{"p":58,"x":9,"y":0.005,"l":-0.100,"h":0.160},{"p":58,"x":10,"y":0.005,"l":-0.118,"h":0.195},{"p":58,"x":11,"y":0.004,"l":-0.145,"h":0.235},{"p":58,"x":12,"y":0.004,"l":-0.182,"h":0.283},
{"p":59,"x":1,"y":0,"l":0,"h":0},{"p":59,"x":2,"y":0.009,"l":-0.005,"h":0.025},{"p":59,"x":3,"y":0.011,"l":-0.015,"h":0.036},{"p":59,"x":4,"y":0.008,"l":-0.028,"h":0.045},{"p":59,"x":5,"y":0.007,"l":-0.040,"h":0.053},{"p":59,"x":6,"y":0.007,"l":-0.052,"h":0.064},{"p":59,"x":7,"y":0.007,"l":-0.065,"h":0.076},{"p":59,"x":8,"y":0.007,"l":-0.080,"h":0.090},{"p":59,"x":9,"y":0.008,"l":-0.098,"h":0.107},{"p":59,"x":10,"y":0.009,"l":-0.117,"h":0.130},{"p":59,"x":11,"y":0.008,"l":-0.140,"h":0.155},{"p":59,"x":12,"y":0.007,"l":-0.170,"h":0.187},
{"p":60,"x":1,"y":0,"l":0,"h":0},{"p":60,"x":2,"y":0.005,"l":-0.013,"h":0.024},{"p":60,"x":3,"y":0.003,"l":-0.023,"h":0.026},{"p":60,"x":4,"y":0.003,"l":-0.030,"h":0.035},{"p":60,"x":5,"y":0.003,"l":-0.035,"h":0.045},{"p":60,"x":6,"y":0.007,"l":-0.038,"h":0.057},{"p":60,"x":7,"y":0.011,"l":-0.040,"h":0.072},{"p":60,"x":8,"y":0.016,"l":-0.045,"h":0.090},{"p":60,"x":9,"y":0.020,"l":-0.053,"h":0.110},{"p":60,"x":10,"y":0.022,"l":-0.065,"h":0.130},{"p":60,"x":11,"y":0.021,"l":-0.085,"h":0.150},{"p":60,"x":12,"y":0.020,"l":-0.108,"h":0.165},
{"p":61,"x":1,"y":0.022,"l":0.022,"h":0.022},{"p":61,"x":2,"y":0.020,"l":0.012,"h":0.026},{"p":61,"x":3,"y":0.021,"l":0.009,"h":0.032},{"p":61,"x":4,"y":0.024,"l":0.009,"h":0.042},{"p":61,"x":5,"y":0.024,"l":0.005,"h":0.052},{"p":61,"x":6,"y":0.025,"l":0.001,"h":0.063},{"p":61,"x":7,"y":0.026,"l":-0.004,"h":0.078},{"p":61,"x":8,"y":0.026,"l":-0.012,"h":0.093},{"p":61,"x":9,"y":0.024,"l":-0.020,"h":0.110},{"p":61,"x":10,"y":0.022,"l":-0.030,"h":0.130},{"p":61,"x":11,"y":0.020,"l":-0.040,"h":0.153},{"p":61,"x":12,"y":0.017,"l":-0.055,"h":0.180},
{"p":62,"x":1,"y":0,"l":0,"h":0},{"p":62,"x":2,"y":0.020,"l":-0.040,"h":0.080},{"p":62,"x":3,"y":0.025,"l":-0.045,"h":0.105},{"p":62,"x":4,"y":0.035,"l":-0.045,"h":0.130},{"p":62,"x":5,"y":0.035,"l":-0.060,"h":0.145},{"p":62,"x":6,"y":0.025,"l":-0.090,"h":0.150},{"p":62,"x":7,"y":0.018,"l":-0.120,"h":0.170},{"p":62,"x":8,"y":0.012,"l":-0.160,"h":0.190},{"p":62,"x":9,"y":0.003,"l":-0.200,"h":0.220},{"p":62,"x":10,"y":0.003,"l":-0.235,"h":0.275},{"p":62,"x":11,"y":0.003,"l":-0.270,"h":0.320},{"p":62,"x":12,"y":0.006,"l":-0.320,"h":0.385},
{"p":63,"x":1,"y":0,"l":0,"h":0},{"p":63,"x":2,"y":0.020,"l":-0.035,"h":0.075},{"p":63,"x":3,"y":0.060,"l":-0.020,"h":0.140},{"p":63,"x":4,"y":0.105,"l":0.010,"h":0.200},{"p":63,"x":5,"y":0.100,"l":-0.020,"h":0.230},{"p":63,"x":6,"y":0.085,"l":-0.060,"h":0.250},{"p":63,"x":7,"y":0.070,"l":-0.100,"h":0.265},{"p":63,"x":8,"y":0.055,"l":-0.135,"h":0.290},{"p":63,"x":9,"y":0.045,"l":-0.170,"h":0.330},{"p":63,"x":10,"y":0.045,"l":-0.210,"h":0.400},{"p":63,"x":11,"y":0.045,"l":-0.260,"h":0.480},{"p":63,"x":12,"y":0.045,"l":-0.370,"h":0.570},
{"p":64,"x":1,"y":0,"l":0,"h":0},{"p":64,"x":2,"y":0.002,"l":-0.001,"h":0.007},{"p":64,"x":3,"y":0.004,"l":-0.002,"h":0.012},{"p":64,"x":4,"y":0.006,"l":-0.003,"h":0.020},{"p":64,"x":5,"y":0.009,"l":-0.005,"h":0.030},{"p":64,"x":6,"y":0.011,"l":-0.007,"h":0.042},{"p":64,"x":7,"y":0.012,"l":-0.010,"h":0.055},{"p":64,"x":8,"y":0.011,"l":-0.015,"h":0.069},{"p":64,"x":9,"y":0.010,"l":-0.022,"h":0.082},{"p":64,"x":10,"y":0.009,"l":-0.029,"h":0.100},{"p":64,"x":11,"y":0.008,"l":-0.037,"h":0.125},{"p":64,"x":12,"y":0.008,"l":-0.048,"h":0.153},
{"p":65,"x":1,"y":0,"l":0,"h":0},{"p":65,"x":2,"y":-0.002,"l":-0.025,"h":0.022},{"p":65,"x":3,"y":0,"l":-0.032,"h":0.028},{"p":65,"x":4,"y":0.005,"l":-0.035,"h":0.045},{"p":65,"x":5,"y":0.010,"l":-0.043,"h":0.065},{"p":65,"x":6,"y":0.015,"l":-0.047,"h":0.095},{"p":65,"x":7,"y":0.022,"l":-0.055,"h":0.125},{"p":65,"x":8,"y":0.025,"l":-0.070,"h":0.155},{"p":65,"x":9,"y":0.022,"l":-0.090,"h":0.185},{"p":65,"x":10,"y":0.015,"l":-0.125,"h":0.210},{"p":65,"x":11,"y":0.010,"l":-0.160,"h":0.240},{"p":65,"x":12,"y":0.005,"l":-0.210,"h":0.290},
{"p":66,"x":1,"y":0,"l":0,"h":0},{"p":66,"x":2,"y":-0.015,"l":-0.030,"h":0.003},{"p":66,"x":3,"y":-0.007,"l":-0.030,"h":0.010},{"p":66,"x":4,"y":0,"l":-0.030,"h":0.022},{"p":66,"x":5,"y":0,"l":-0.045,"h":0.028},{"p":66,"x":6,"y":0.003,"l":-0.052,"h":0.038},{"p":66,"x":7,"y":0.005,"l":-0.062,"h":0.048},{"p":66,"x":8,"y":0.006,"l":-0.080,"h":0.057},{"p":66,"x":9,"y":0.006,"l":-0.105,"h":0.068},{"p":66,"x":10,"y":0.006,"l":-0.140,"h":0.080},{"p":66,"x":11,"y":0.006,"l":-0.180,"h":0.090},{"p":66,"x":12,"y":0.006,"l":-0.225,"h":0.108},
{"p":67,"x":1,"y":0,"l":0,"h":0},{"p":67,"x":2,"y":0.008,"l":-0.025,"h":0.050},{"p":67,"x":3,"y":0.030,"l":-0.010,"h":0.080},{"p":67,"x":4,"y":0.030,"l":-0.015,"h":0.100},{"p":67,"x":5,"y":0.048,"l":-0.010,"h":0.150},{"p":67,"x":6,"y":0.042,"l":-0.025,"h":0.175},{"p":67,"x":7,"y":0.038,"l":-0.040,"h":0.205},{"p":67,"x":8,"y":0.032,"l":-0.060,"h":0.240},{"p":67,"x":9,"y":0.026,"l":-0.090,"h":0.295},{"p":67,"x":10,"y":0.025,"l":-0.115,"h":0.370},{"p":67,"x":11,"y":0.025,"l":-0.130,"h":0.460},{"p":67,"x":12,"y":0.025,"l":-0.170,"h":0.580},
{"p":68,"x":1,"y":0,"l":0,"h":0},{"p":68,"x":2,"y":-0.017,"l":-0.040,"h":0.008},{"p":68,"x":3,"y":-0.020,"l":-0.060,"h":0.020},{"p":68,"x":4,"y":-0.022,"l":-0.080,"h":0.030},{"p":68,"x":5,"y":-0.017,"l":-0.092,"h":0.040},{"p":68,"x":6,"y":-0.014,"l":-0.110,"h":0.050},{"p":68,"x":7,"y":-0.012,"l":-0.130,"h":0.062},{"p":68,"x":8,"y":-0.011,"l":-0.150,"h":0.080},{"p":68,"x":9,"y":-0.008,"l":-0.180,"h":0.100},{"p":68,"x":10,"y":-0.008,"l":-0.220,"h":0.120},{"p":68,"x":11,"y":-0.006,"l":-0.270,"h":0.150},{"p":68,"x":12,"y":-0.010,"l":-0.360,"h":0.180},
{"p":69,"x":1,"y":0,"l":0,"h":0},{"p":69,"x":2,"y":-0.008,"l":-0.035,"h":0.017},{"p":69,"x":3,"y":-0.008,"l":-0.042,"h":0.025},{"p":69,"x":4,"y":-0.009,"l":-0.055,"h":0.035},{"p":69,"x":5,"y":-0.002,"l":-0.060,"h":0.048},{"p":69,"x":6,"y":0,"l":-0.070,"h":0.058},{"p":69,"x":7,"y":0.008,"l":-0.072,"h":0.080},{"p":69,"x":8,"y":0.012,"l":-0.087,"h":0.100},{"p":69,"x":9,"y":0.016,"l":-0.092,"h":0.130},{"p":69,"x":10,"y":0.018,"l":-0.120,"h":0.155},{"p":69,"x":11,"y":0.020,"l":-0.150,"h":0.185},{"p":69,"x":12,"y":0.018,"l":-0.180,"h":0.220},
{"p":70,"x":1,"y":0,"l":0,"h":0},{"p":70,"x":2,"y":-0.001,"l":-0.012,"h":0.010},{"p":70,"x":3,"y":-0.002,"l":-0.020,"h":0.016},{"p":70,"x":4,"y":-0.001,"l":-0.028,"h":0.022},{"p":70,"x":5,"y":0,"l":-0.036,"h":0.030},{"p":70,"x":6,"y":0.002,"l":-0.045,"h":0.040},{"p":70,"x":7,"y":0.004,"l":-0.055,"h":0.053},{"p":70,"x":8,"y":0.006,"l":-0.066,"h":0.067},{"p":70,"x":9,"y":0.007,"l":-0.080,"h":0.085},{"p":70,"x":10,"y":0.009,"l":-0.098,"h":0.110},{"p":70,"x":11,"y":0.009,"l":-0.122,"h":0.130},{"p":70,"x":12,"y":0.008,"l":-0.147,"h":0.163},
{"p":71,"x":1,"y":0.170,"l":0.170,"h":0.170},{"p":71,"x":2,"y":0.050,"l":-0.030,"h":0.140},{"p":71,"x":3,"y":0.020,"l":-0.080,"h":0.130},{"p":71,"x":4,"y":0.020,"l":-0.110,"h":0.150},{"p":71,"x":5,"y":0.005,"l":-0.140,"h":0.170},{"p":71,"x":6,"y":-0.005,"l":-0.160,"h":0.200},{"p":71,"x":7,"y":0.025,"l":-0.160,"h":0.270},{"p":71,"x":8,"y":0.020,"l":-0.190,"h":0.330},{"p":71,"x":9,"y":0.030,"l":-0.200,"h":0.430},{"p":71,"x":10,"y":0.025,"l":-0.250,"h":0.550},{"p":71,"x":11,"y":0.025,"l":-0.280,"h":0.680},{"p":71,"x":12,"y":0.020,"l":-0.380,"h":0.820},
{"p":72,"x":1,"y":0,"l":0,"h":0},{"p":72,"x":2,"y":-0.030,"l":-0.110,"h":0.040},{"p":72,"x":3,"y":-0.020,"l":-0.130,"h":0.070},{"p":72,"x":4,"y":-0.010,"l":-0.140,"h":0.100},{"p":72,"x":5,"y":0.010,"l":-0.160,"h":0.150},{"p":72,"x":6,"y":0.025,"l":-0.180,"h":0.220},{"p":72,"x":7,"y":0.050,"l":-0.200,"h":0.300},{"p":72,"x":8,"y":0.035,"l":-0.270,"h":0.330},{"p":72,"x":9,"y":0.020,"l":-0.380,"h":0.380},{"p":72,"x":10,"y":0.010,"l":-0.500,"h":0.440},{"p":72,"x":11,"y":0.005,"l":-0.620,"h":0.500},{"p":72,"x":12,"y":0.005,"l":-0.760,"h":0.600},
{"p":73,"x":1,"y":0,"l":0,"h":0},{"p":73,"x":2,"y":0.001,"l":-0.003,"h":0.005},{"p":73,"x":3,"y":0,"l":-0.006,"h":0.006},{"p":73,"x":4,"y":-0.0003,"l":-0.010,"h":0.007},{"p":73,"x":5,"y":-0.001,"l":-0.014,"h":0.011},{"p":73,"x":6,"y":0,"l":-0.019,"h":0.016},{"p":73,"x":7,"y":0.0005,"l":-0.026,"h":0.023},{"p":73,"x":8,"y":0.0007,"l":-0.033,"h":0.030},{"p":73,"x":9,"y":0.001,"l":-0.041,"h":0.038},{"p":73,"x":10,"y":0.0008,"l":-0.050,"h":0.046},{"p":73,"x":11,"y":0.0005,"l":-0.062,"h":0.053},{"p":73,"x":12,"y":0.0003,"l":-0.076,"h":0.063},
{"p":74,"x":1,"y":0,"l":0,"h":0},{"p":74,"x":2,"y":0.004,"l":-0.012,"h":0.022},{"p":74,"x":3,"y":0.006,"l":-0.020,"h":0.027},{"p":74,"x":4,"y":0.003,"l":-0.032,"h":0.032},{"p":74,"x":5,"y":0,"l":-0.047,"h":0.038},{"p":74,"x":6,"y":0.001,"l":-0.060,"h":0.052},{"p":74,"x":7,"y":0.002,"l":-0.075,"h":0.065},{"p":74,"x":8,"y":0.004,"l":-0.092,"h":0.080},{"p":74,"x":9,"y":0.004,"l":-0.115,"h":0.095},{"p":74,"x":10,"y":0.004,"l":-0.145,"h":0.113},{"p":74,"x":11,"y":0.003,"l":-0.190,"h":0.132},{"p":74,"x":12,"y":0.003,"l":-0.225,"h":0.150},
{"p":75,"x":1,"y":0,"l":0,"h":0},{"p":75,"x":2,"y":0.001,"l":-0.013,"h":0.014},{"p":75,"x":3,"y":0.002,"l":-0.018,"h":0.020},{"p":75,"x":4,"y":0.002,"l":-0.020,"h":0.025},{"p":75,"x":5,"y":0.004,"l":-0.022,"h":0.031},{"p":75,"x":6,"y":0.002,"l":-0.030,"h":0.036},{"p":75,"x":7,"y":0.002,"l":-0.034,"h":0.042},{"p":75,"x":8,"y":0.002,"l":-0.040,"h":0.053},{"p":75,"x":9,"y":0.002,"l":-0.047,"h":0.065},{"p":75,"x":10,"y":0.002,"l":-0.055,"h":0.080},{"p":75,"x":11,"y":0.003,"l":-0.065,"h":0.100},{"p":75,"x":12,"y":0.002,"l":-0.083,"h":0.120},
{"p":76,"x":1,"y":0,"l":0,"h":0},{"p":76,"x":2,"y":-0.015,"l":-0.045,"h":0.015},{"p":76,"x":3,"y":-0.016,"l":-0.055,"h":0.018},{"p":76,"x":4,"y":-0.012,"l":-0.065,"h":0.030},{"p":76,"x":5,"y":-0.010,"l":-0.080,"h":0.043},{"p":76,"x":6,"y":-0.006,"l":-0.095,"h":0.055},{"p":76,"x":7,"y":-0.004,"l":-0.110,"h":0.070},{"p":76,"x":8,"y":-0.003,"l":-0.128,"h":0.085},{"p":76,"x":9,"y":-0.001,"l":-0.150,"h":0.105},{"p":76,"x":10,"y":-0.003,"l":-0.190,"h":0.130},{"p":76,"x":11,"y":-0.003,"l":-0.240,"h":0.160},{"p":76,"x":12,"y":-0.004,"l":-0.330,"h":0.200},
{"p":77,"x":1,"y":0,"l":0,"h":0},{"p":77,"x":2,"y":-0.003,"l":-0.025,"h":0.012},{"p":77,"x":3,"y":0.002,"l":-0.030,"h":0.028},{"p":77,"x":4,"y":0,"l":-0.042,"h":0.038},{"p":77,"x":5,"y":-0.001,"l":-0.052,"h":0.046},{"p":77,"x":6,"y":-0.003,"l":-0.065,"h":0.052},{"p":77,"x":7,"y":-0.002,"l":-0.075,"h":0.060},{"p":77,"x":8,"y":-0.002,"l":-0.087,"h":0.073},{"p":77,"x":9,"y":0,"l":-0.105,"h":0.090},{"p":77,"x":10,"y":0,"l":-0.130,"h":0.115},{"p":77,"x":11,"y":0,"l":-0.155,"h":0.150},{"p":77,"x":12,"y":-0.002,"l":-0.190,"h":0.190},
{"p":78,"x":1,"y":0,"l":0,"h":0},{"p":78,"x":2,"y":-0.002,"l":-0.022,"h":0.020},{"p":78,"x":3,"y":0.004,"l":-0.025,"h":0.033},{"p":78,"x":4,"y":0.002,"l":-0.035,"h":0.036},{"p":78,"x":5,"y":-0.002,"l":-0.045,"h":0.039},{"p":78,"x":6,"y":-0.001,"l":-0.050,"h":0.044},{"p":78,"x":7,"y":-0.002,"l":-0.060,"h":0.050},{"p":78,"x":8,"y":-0.002,"l":-0.070,"h":0.060},{"p":78,"x":9,"y":-0.001,"l":-0.085,"h":0.075},{"p":78,"x":10,"y":0,"l":-0.102,"h":0.092},{"p":78,"x":11,"y":0.001,"l":-0.120,"h":0.115},{"p":78,"x":12,"y":0.003,"l":-0.148,"h":0.137},
{"p":79,"x":1,"y":0,"l":0,"h":0},{"p":79,"x":2,"y":0.007,"l":-0.004,"h":0.016},{"p":79,"x":3,"y":0.006,"l":-0.009,"h":0.022},{"p":79,"x":4,"y":0.007,"l":-0.014,"h":0.028},{"p":79,"x":5,"y":0.008,"l":-0.020,"h":0.034},{"p":79,"x":6,"y":0.008,"l":-0.027,"h":0.041},{"p":79,"x":7,"y":0.007,"l":-0.036,"h":0.049},{"p":79,"x":8,"y":0.007,"l":-0.045,"h":0.058},{"p":79,"x":9,"y":0.007,"l":-0.060,"h":0.070},{"p":79,"x":10,"y":0.007,"l":-0.072,"h":0.085},{"p":79,"x":11,"y":0.006,"l":-0.085,"h":0.100},{"p":79,"x":12,"y":0.006,"l":-0.105,"h":0.120},
{"p":80,"x":1,"y":0,"l":0,"h":0},{"p":80,"x":2,"y":-0.005,"l":-0.070,"h":0.070},{"p":80,"x":3,"y":0,"l":-0.085,"h":0.090},{"p":80,"x":4,"y":-0.005,"l":-0.100,"h":0.105},{"p":80,"x":5,"y":0.005,"l":-0.110,"h":0.120},{"p":80,"x":6,"y":0,"l":-0.140,"h":0.140},{"p":80,"x":7,"y":-0.003,"l":-0.160,"h":0.155},{"p":80,"x":8,"y":-0.003,"l":-0.190,"h":0.175},{"p":80,"x":9,"y":-0.003,"l":-0.240,"h":0.205},{"p":80,"x":10,"y":-0.005,"l":-0.290,"h":0.235},{"p":80,"x":11,"y":-0.008,"l":-0.330,"h":0.300},{"p":80,"x":12,"y":-0.008,"l":-0.390,"h":0.370},
{"p":81,"x":1,"y":0.160,"l":0.160,"h":0.160},{"p":81,"x":2,"y":0.100,"l":0.050,"h":0.155},{"p":81,"x":3,"y":0.040,"l":-0.040,"h":0.125},{"p":81,"x":4,"y":0.025,"l":-0.080,"h":0.140},{"p":81,"x":5,"y":0.040,"l":-0.080,"h":0.200},{"p":81,"x":6,"y":0.040,"l":-0.110,"h":0.245},{"p":81,"x":7,"y":0.045,"l":-0.140,"h":0.295},{"p":81,"x":8,"y":0.050,"l":-0.165,"h":0.360},{"p":81,"x":9,"y":0.055,"l":-0.180,"h":0.420},{"p":81,"x":10,"y":0.050,"l":-0.225,"h":0.490},{"p":81,"x":11,"y":0.050,"l":-0.250,"h":0.600},{"p":81,"x":12,"y":0.045,"l":-0.340,"h":0.720}
]},
"columns": 9,
"spacing": {"row": 28, "column": 8},
"facet": {"field": "p", "type": "ordinal", "title": null, "header": {"labelOrient": "left", "labelAngle": -90, "labelPadding": 4, "labelExpr": "'Shock from ' + ['GDP_2011','Budget_in_r','Budget_out_r','Out_general_r','Out_defense_r','Out_economy_r','Out_educ_r','Out_soc_r','Brent'][floor((datum.value-1)/9)] + ' to ' + ['GDP_2011','Budget_in_r','Budget_out_r','Out_general_r','Out_defense_r','Out_economy_r','Out_educ_r','Out_soc_r','Brent'][(datum.value-1)%9]"}},
"resolve": {"scale": {"y": "independent"}, "axis": {"x": "independent", "y": "independent"}},
"spec": {
  "width": 318,
  "height": 268,
  "layer": [
    {"mark": {"type": "area", "fill": "#ccccff", "fillOpacity": 1, "stroke": "#0000ff", "strokeWidth": 1},
     "encoding": {
       "x": {"field": "x", "type": "quantitative", "scale": {"domain": [0.45, 12.55], "nice": false}, "axis": {"orient": "bottom", "values": [2.5, 5, 7.5, 10, 12.5], "format": ".1f", "grid": true}},
       "y": {"field": "h", "type": "quantitative", "scale": {"zero": false, "nice": false, "padding": 13}, "axis": {"grid": true, "tickCount": 4}},
       "y2": {"field": "l"}}},
    {"mark": {"type": "rule", "color": "#000000", "strokeWidth": 1.2}, "encoding": {"y": {"datum": 0}}},
    {"mark": {"type": "line", "color": "#ff0000", "strokeWidth": 5},
     "encoding": {
       "x": {"field": "x", "type": "quantitative", "axis": {"orient": "top", "labels": false, "grid": false, "values": [2.5, 5, 7.5, 10, 12.5], "tickSize": 3}},
       "y": {"field": "y", "type": "quantitative"}}}
  ],
  "resolve": {"axis": {"x": "independent"}}
}
}
